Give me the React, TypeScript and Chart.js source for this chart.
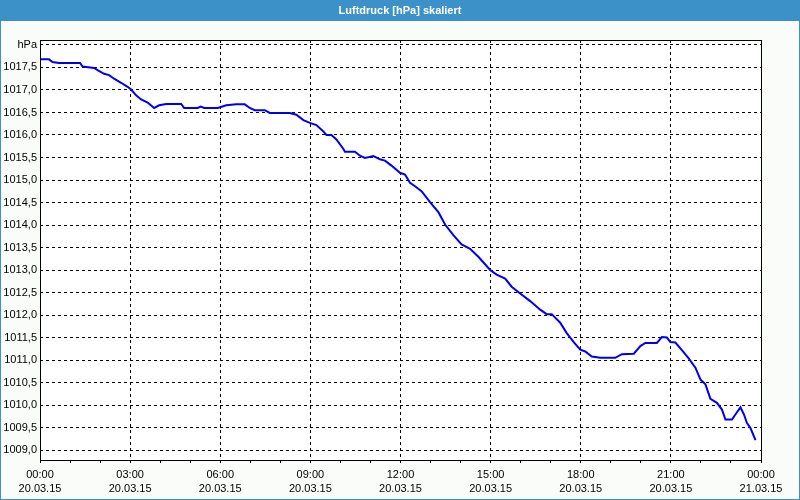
import React, { useEffect, useRef } from 'react';
import { Chart, registerables } from 'chart.js';

Chart.register(...registerables);

const chartTitle = 'Luftdruck [hPa] skaliert';
const unitLabel = 'hPa';

// minutes since 20.03.15 00:00
const timeMinutes = [
  0, 18, 25, 38, 80, 85, 108, 115, 128, 138, 148, 162, 175, 182, 192, 202, 215, 228, 238, 252,
  282, 288, 315, 321, 328, 355, 372, 392, 409, 419, 429, 449, 459, 499, 512, 526, 539, 552, 566, 572,
  582, 592, 606, 609, 629, 639, 649, 666, 679, 689, 702, 719, 729, 739, 749, 762, 779, 796, 809, 826,
  842, 859, 876, 899, 912, 929, 942, 959, 979, 999, 1012, 1022, 1039, 1052, 1066, 1079, 1089, 1102, 1119, 1149,
  1162, 1186, 1199, 1209, 1232, 1242, 1252, 1259, 1269, 1282, 1296, 1309, 1319, 1329, 1339, 1352, 1362, 1369, 1382, 1392,
  1399, 1406, 1412, 1419, 1429,
];

const pressure = [
  1017.68, 1017.68, 1017.62, 1017.6, 1017.6, 1017.52, 1017.49, 1017.44, 1017.36, 1017.33, 1017.25, 1017.16, 1017.07, 1017.01, 1016.88, 1016.79, 1016.72, 1016.6, 1016.66, 1016.69,
  1016.69, 1016.6, 1016.6, 1016.63, 1016.6, 1016.6, 1016.66, 1016.68, 1016.68, 1016.6, 1016.55, 1016.55, 1016.49, 1016.49, 1016.45, 1016.33, 1016.27, 1016.22, 1016.08, 1016.0,
  1016.0, 1015.9, 1015.69, 1015.63, 1015.63, 1015.54, 1015.49, 1015.53, 1015.46, 1015.43, 1015.32, 1015.16, 1015.12, 1014.94, 1014.86, 1014.75, 1014.51, 1014.28, 1014.01, 1013.77,
  1013.57, 1013.47, 1013.29, 1013.0, 1012.9, 1012.81, 1012.63, 1012.48, 1012.31, 1012.12, 1012.02, 1012.02, 1011.83, 1011.6, 1011.4, 1011.23, 1011.19, 1011.08, 1011.05, 1011.05,
  1011.13, 1011.14, 1011.31, 1011.38, 1011.38, 1011.51, 1011.5, 1011.4, 1011.39, 1011.22, 1011.03, 1010.83, 1010.57, 1010.46, 1010.14, 1010.05, 1009.9, 1009.68, 1009.68, 1009.84,
  1009.95, 1009.79, 1009.6, 1009.49, 1009.22,
];

const yTickValues = [1009, 1009.5, 1010, 1010.5, 1011, 1011.5, 1012, 1012.5, 1013, 1013.5, 1014, 1014.5, 1015, 1015.5, 1016, 1016.5, 1017, 1017.5, 1018];
const unitTickValue = 1018;
const yMin = 1008.78;
const yMax = 1018.11;

const xMin = 0;
const xMax = 1440;
const minorStep = 60;
const majorStep = 180;
const startDate = '20.03.15';
const endDate = '21.03.15';

const BLUE = '#3d91c9';
const FONT = '"Liberation Sans", Arial, sans-serif';

function fmtTime(m: number): string {
  const h = Math.floor((m % 1440) / 60);
  const mm = m % 60;
  return String(h).padStart(2, '0') + ':' + String(mm).padStart(2, '0');
}

const framePlugin = {
  id: 'frame',
  beforeDraw(chart: any) {
    const { ctx, width, height, chartArea } = chart;
    ctx.save();
    ctx.fillStyle = '#f9fcf9';
    ctx.fillRect(0, 0, width, height);
    ctx.fillStyle = '#ffffff';
    ctx.fillRect(chartArea.left, chartArea.top, chartArea.right - chartArea.left, chartArea.bottom - chartArea.top);
    // title bar
    ctx.fillStyle = BLUE;
    ctx.fillRect(0, 0, width, 21);
    ctx.strokeStyle = BLUE;
    ctx.lineWidth = 1;
    ctx.strokeRect(0.5, 0.5, width - 1, height - 1);
    ctx.fillStyle = '#ffffff';
    ctx.font = 'bold 11px ' + FONT;
    ctx.textAlign = 'center';
    ctx.textBaseline = 'middle';
    ctx.fillText(chartTitle, width / 2, 11);
    ctx.restore();
  },
  afterDraw(chart: any) {
    const { ctx, chartArea } = chart;
    ctx.save();
    ctx.strokeStyle = '#000000';
    ctx.lineWidth = 1;
    ctx.setLineDash([]);
    ctx.strokeRect(
      Math.round(chartArea.left) + 0.5,
      Math.round(chartArea.top) + 0.5,
      Math.round(chartArea.right - chartArea.left),
      Math.round(chartArea.bottom - chartArea.top)
    );
    ctx.restore();
  },
};

export default function App() {
  const canvasRef = useRef<HTMLCanvasElement | null>(null);

  useEffect(() => {
    const canvas = canvasRef.current;
    if (!canvas) return;
    const data = timeMinutes.map((t, i) => ({ x: t, y: pressure[i] }));
    const chart = new Chart(canvas, {
      type: 'line',
      data: {
        datasets: [
          {
            data,
            borderColor: '#0000f0',
            borderWidth: 2,
            pointRadius: 0,
            tension: 0,
            fill: false,
          },
        ],
      },
      options: {
        animation: false,
        responsive: false,
        devicePixelRatio: 1,
        layout: { padding: { top: 40, right: 39, left: 0, bottom: 0 } },
        plugins: {
          legend: { display: false },
          tooltip: { enabled: false },
          title: { display: false },
        },
        scales: {
          x: {
            type: 'linear',
            min: xMin,
            max: xMax,
            afterFit: (s: any) => {
              s.height = 40;
            },
            ticks: {
              stepSize: minorStep,
              autoSkip: false,
              maxRotation: 0,
              minRotation: 0,
              padding: 4,
              color: '#000000',
              font: { family: FONT, size: 11, lineHeight: 1.36 },
              callback: (v: any) => {
                const m = Number(v);
                if (m % majorStep !== 0) return '';
                return [fmtTime(m), m >= 1440 ? endDate : startDate];
              },
            },
            grid: {
              color: (c: any) => (c.tick && c.tick.value % majorStep === 0 ? '#000000' : 'rgba(0,0,0,0)'),
              tickColor: '#000000',
              tickLength: 3,
              lineWidth: 1,
              tickBorderDash: [],
            },
            border: { display: false, dash: [3, 3] },
          },
          y: {
            type: 'linear',
            min: yMin,
            max: yMax,
            afterFit: (s: any) => {
              s.width = 40;
            },
            afterBuildTicks: (s: any) => {
              s.ticks = yTickValues.map((v) => ({ value: v }));
            },
            ticks: {
              padding: 3,
              color: '#000000',
              font: { family: FONT, size: 11 },
              callback: (v: any) => {
                const n = Number(v);
                if (Math.abs(n - unitTickValue) < 1e-6) return unitLabel;
                return n.toFixed(1).replace('.', ',');
              },
            },
            grid: {
              color: '#000000',
              lineWidth: 1,
              drawTicks: false,
            },
            border: { display: false, dash: [3, 3] },
          },
        },
      },
      plugins: [framePlugin],
    });
    return () => chart.destroy();
  }, []);

  return (
    <div style={{ position: 'fixed', left: 0, top: 0, width: 800, height: 500 }}>
      <canvas ref={canvasRef} width={800} height={500} style={{ display: 'block', width: 800, height: 500 }} />
    </div>
  );
}
